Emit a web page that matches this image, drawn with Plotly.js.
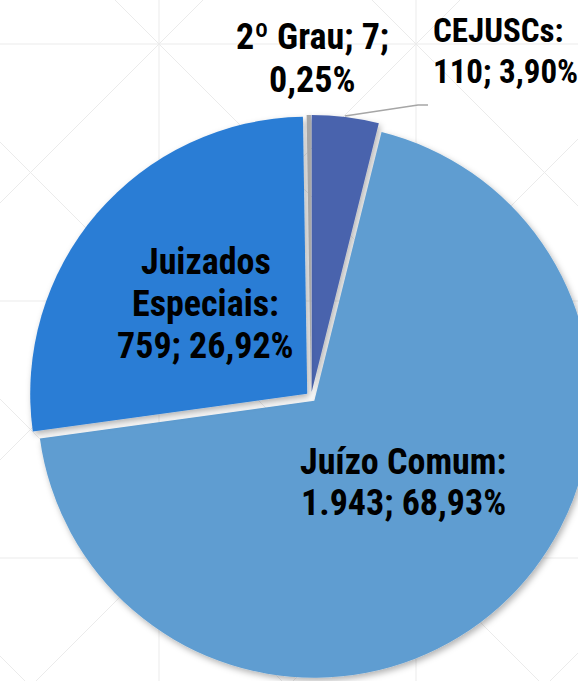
<!DOCTYPE html>
<html>
<head>
<meta charset="utf-8">
<script src="https://cdn.plot.ly/plotly-3.0.1.min.js"></script>
<style>
  html, body { margin: 0; padding: 0; width: 578px; height: 681px; overflow: hidden; background: #ffffff; }
  #chart { width: 700px; height: 760px; position: absolute; left: 0; top: 0; }
</style>
</head>
<body>
<div id="chart"></div>
<script>
// ---- data ----
const categories = ['CEJUSCs', 'Juízo Comum', 'Juizados Especiais', '2º Grau'];
const counts = [110, 1943, 759, 7];
const percents = [3.90, 68.93, 26.92, 0.25];
const sliceColors = ['#4a64ad', '#5f9dd1', '#2a7dd5', '#a6a6a6'];

// ---- helpers ----
const W = 700, H = 760;
const px = x => x / W;
const py = y => 1 - y / H;
const fmtInt = n => String(n).replace(/\B(?=(\d{3})+(?!\d))/g, '.');
const fmtPct = p => p.toFixed(2).replace('.', ',') + '%';

// label lines built from data
function labelLines(i) {
  const name = categories[i], c = fmtInt(counts[i]), p = fmtPct(percents[i]);
  if (name === '2º Grau') return [name + '; ' + c + ';', p];
  if (name === 'Juizados Especiais') return ['Juizados', 'Especiais:', c + '; ' + p];
  return [name + ':', c + '; ' + p];
}
// label placement (pixels): x, first-line y, line gap, anchor, size
const labelPos = [
  {x: 431, y: 30, gap: 42, anchor: 'left', size: 33},
  {x: 403, y: 462, gap: 41, anchor: 'center', size: 36},
  {x: 206, y: 262, gap: 42, anchor: 'center', size: 36},
  {x: 312, y: 37, gap: 43, anchor: 'center', size: 36}
];

const FONT = '"Liberation Sans Narrow", "Arial Narrow", "Roboto Condensed", "Liberation Sans", sans-serif';

const annotations = [];
categories.forEach((_, i) => {
  const lp = labelPos[i];
  labelLines(i).forEach((t, k) => {
    annotations.push({
      xref: 'paper', yref: 'paper',
      x: px(lp.x), y: py(lp.y + k * lp.gap),
      xanchor: lp.anchor, yanchor: 'middle',
      text: '<b>' + t + '</b>', showarrow: false,
      font: {family: FONT, size: lp.size, color: '#000000'}
    });
  });
});

// background pattern (slide decoration)
const shapes = [];
const gridCol = '#ebebeb';
[159, 416].forEach(x => shapes.push({type: 'line', xref: 'paper', yref: 'paper', layer: 'below',
  x0: px(x), x1: px(x), y0: py(-10), y1: py(H + 10), line: {color: gridCol, width: 1}}));
[44, 301, 558].forEach(y => shapes.push({type: 'line', xref: 'paper', yref: 'paper', layer: 'below',
  x0: px(-10), x1: px(W + 10), y0: py(y), y1: py(y), line: {color: gridCol, width: 1}}));
[-372, -115, 142, 399, 656].forEach(c => shapes.push({type: 'line', xref: 'paper', yref: 'paper', layer: 'below',
  x0: px(-400), y0: py(c - 400), x1: px(1200), y1: py(c + 1200), line: {color: gridCol, width: 1}}));
[203, 460, 717, 974, 1231].forEach(c => shapes.push({type: 'line', xref: 'paper', yref: 'paper', layer: 'below',
  x0: px(-400), y0: py(c + 400), x1: px(1600), y1: py(c - 1600), line: {color: gridCol, width: 1}}));

// leader line for CEJUSCs label
shapes.push({type: 'path', xref: 'paper', yref: 'paper', layer: 'above',
  path: 'M' + px(345) + ',' + py(116) + ' L' + px(418) + ',' + py(105) + ' L' + px(428) + ',' + py(105),
  line: {color: '#a6a6a6', width: 1.5}});

// pie geometry (pixels)
const cx = 311, cy = 397, R = 277, PULL = 0.018;
const half = R * (1 + PULL);

const trace = {
  type: 'pie',
  labels: categories,
  values: counts,
  sort: false,
  direction: 'clockwise',
  rotation: 0,
  pull: categories.map(() => PULL),
  marker: {colors: sliceColors, line: {width: 0}},
  textinfo: 'none',
  hoverinfo: 'skip',
  showlegend: false,
  domain: {x: [px(cx - half), px(cx + half)], y: [py(cy + half), py(cy - half)]}
};

const layout = {
  width: W, height: H,
  margin: {l: 0, r: 0, t: 0, b: 0},
  paper_bgcolor: '#ffffff',
  showlegend: false,
  annotations: annotations,
  shapes: shapes
};

Plotly.newPlot('chart', [trace], layout, {staticPlot: true, displayModeBar: false}).then(gd => {
  const svg = gd.querySelector('.main-svg');
  const ns = 'http://www.w3.org/2000/svg';
  let defs = svg.querySelector('defs');
  if (!defs) { defs = document.createElementNS(ns, 'defs'); svg.insertBefore(defs, svg.firstChild); }
  const f = document.createElementNS(ns, 'filter');
  f.setAttribute('id', 'pieShadow');
  f.setAttribute('x', '-20%'); f.setAttribute('y', '-20%');
  f.setAttribute('width', '140%'); f.setAttribute('height', '140%');
  const ds = document.createElementNS(ns, 'feDropShadow');
  ds.setAttribute('dx', '2'); ds.setAttribute('dy', '3');
  ds.setAttribute('stdDeviation', '3');
  ds.setAttribute('flood-color', '#000000');
  ds.setAttribute('flood-opacity', '0.3');
  f.appendChild(ds);
  defs.appendChild(f);
  gd.querySelectorAll('.pielayer .slice').forEach(s => s.setAttribute('filter', 'url(#pieShadow)'));
});
</script>
</body>
</html>
